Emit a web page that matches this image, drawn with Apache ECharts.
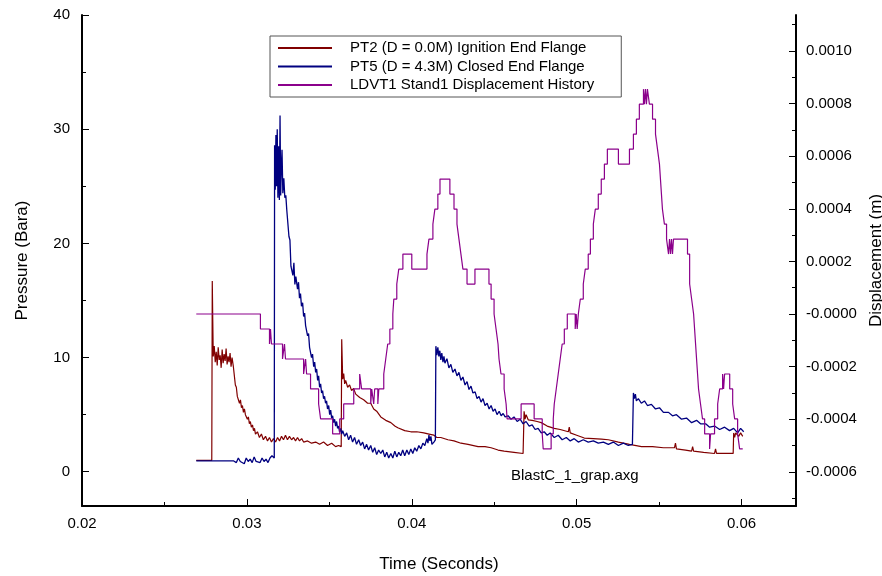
<!DOCTYPE html>
<html>
<head>
<meta charset="utf-8">
<script src="https://cdn.jsdelivr.net/npm/echarts@6/dist/echarts.min.js"></script>
<style>
  html, body { margin: 0; padding: 0; background: #fff; }
  #chart { width: 882px; height: 576px; }
</style>
</head>
<body>
<div id="chart"></div>
<script>
// tick values
const timeMajor = [0.02, 0.03, 0.04, 0.05, 0.06]
const timeMinor = [0.025, 0.035, 0.045, 0.055]
const pressureMajor = [0, 10, 20, 30, 40]
const pressureMinor = [5, 15, 25, 35]
const dispMajor = [-0.0006, -0.0004, -0.0002, 0, 0.0002, 0.0004, 0.0006, 0.0008, 0.001]
const dispMinor = [-0.0007, -0.0005, -0.0003, -0.0001, 0.0001, 0.0003, 0.0005, 0.0007, 0.0009, 0.0011]

const seriesNames = ['PT2 (D = 0.0M) Ignition End Flange', 'PT5 (D = 4.3M) Closed End Flange', 'LDVT1 Stand1 Displacement History']

// PT2 pressure [time s, bara]
const pt2Data = [
  [0.02693, 1.0], [0.02787, 1.0], [0.02790, 16.7], [0.02793, 13.3], [0.02796, 10.1],
  [0.02802, 11.0], [0.02808, 9.6], [0.02814, 10.5], [0.02820, 9.3], [0.02826, 10.9], [0.02832, 9.8],
  [0.02838, 10.2], [0.02844, 9.1], [0.02850, 10.7], [0.02856, 9.5], [0.02862, 10.3], [0.02868, 9.7],
  [0.02874, 10.8], [0.02880, 9.4], [0.02886, 10.1], [0.02892, 9.6], [0.02898, 10.4], [0.02904, 9.2],
  [0.02910, 10.0], [0.02918, 9.2], [0.02924, 8.4], [0.02930, 7.6], [0.02936, 7.4], [0.02942, 6.6],
  [0.02948, 6.7], [0.02955, 6.0], [0.02961, 6.3], [0.02967, 5.6], [0.02973, 5.8], [0.02979, 5.2],
  [0.02985, 5.5], [0.02991, 5.0], [0.02997, 5.1], [0.03003, 4.6], [0.03009, 4.8], [0.03015, 4.2],
  [0.03021, 4.4], [0.03027, 3.9], [0.03034, 4.1], [0.03040, 3.6], [0.03046, 3.8], [0.03052, 3.3],
  [0.03064, 3.5], [0.03076, 3.0], [0.03088, 3.3], [0.03100, 2.8], [0.03113, 3.1], [0.03125, 2.7],
  [0.03137, 3.0], [0.03149, 2.6], [0.03161, 2.9], [0.03174, 2.6], [0.03186, 3.0], [0.03198, 2.7],
  [0.03210, 3.1], [0.03222, 2.8], [0.03234, 3.2], [0.03246, 2.8], [0.03258, 3.1], [0.03271, 2.8],
  [0.03283, 3.0], [0.03295, 2.7], [0.03307, 3.0], [0.03319, 2.7], [0.03332, 2.9], [0.03344, 2.6],
  [0.03368, 2.7], [0.03392, 2.5], [0.03417, 2.6], [0.03441, 2.4], [0.03465, 2.6], [0.03489, 2.3],
  [0.03514, 2.5], [0.03538, 2.2], [0.03556, 2.3], [0.03572, 2.2], [0.03575, 11.6], [0.03581, 8.1],
  [0.03587, 8.6], [0.03593, 7.7], [0.03599, 8.0], [0.03611, 7.4], [0.03623, 7.6], [0.03635, 7.1],
  [0.03647, 7.3], [0.03660, 6.8], [0.03672, 6.9], [0.03684, 6.5], [0.03696, 6.6], [0.03708, 6.3],
  [0.03720, 6.3], [0.03732, 6.0], [0.03751, 6.0], [0.03769, 5.5], [0.03787, 5.3], [0.03812, 4.8],
  [0.03842, 4.5], [0.03873, 4.3], [0.03897, 4.0], [0.03915, 3.85], [0.03957, 3.6], [0.03994, 3.5],
  [0.04030, 3.5], [0.04073, 3.4], [0.04104, 3.3], [0.04134, 3.2], [0.04152, 3.0], [0.04176, 3.0],
  [0.04219, 2.8], [0.04256, 2.7], [0.04298, 2.5], [0.04341, 2.4], [0.04402, 2.2], [0.04444, 2.2],
  [0.04481, 2.1], [0.04523, 1.9], [0.04560, 1.8], [0.04620, 1.7], [0.04675, 1.6], [0.04678, 1.6],
  [0.04681, 5.3], [0.04687, 4.6], [0.04693, 5.0], [0.04706, 4.55], [0.04730, 4.5], [0.04760, 4.4],
  [0.04785, 4.3], [0.04821, 4.0], [0.04864, 3.8], [0.04900, 3.7], [0.04949, 3.5], [0.04955, 3.9],
  [0.04961, 3.4], [0.05000, 3.2], [0.05046, 2.95], [0.05101, 2.9], [0.05150, 2.85], [0.05192, 2.8],
  [0.05253, 2.6], [0.05320, 2.4], [0.05393, 2.2], [0.05460, 2.2], [0.05526, 2.1], [0.05593, 2.1],
  [0.05599, 2.5], [0.05605, 2.0], [0.05660, 1.9], [0.05697, 1.8], [0.05703, 2.2], [0.05709, 1.8],
  [0.05770, 1.7], [0.05836, 1.6], [0.05842, 2.0], [0.05848, 1.6], [0.05900, 1.6], [0.05949, 1.6],
  [0.05952, 3.4], [0.05958, 3.0], [0.05964, 3.4], [0.05982, 3.1], [0.05994, 3.4], [0.06007, 3.1]
]

// PT5 pressure [time s, bara]
const pt5Data = [
  [0.02693, 0.96], [0.02918, 0.96], [0.02924, 1.1], [0.02936, 0.8], [0.02948, 1.2], [0.02960, 0.9],
  [0.02972, 1.0], [0.02984, 0.7], [0.02996, 1.2], [0.03008, 0.9], [0.03020, 1.1], [0.03032, 0.8],
  [0.03044, 1.3], [0.03056, 0.9], [0.03068, 1.0], [0.03080, 0.8], [0.03092, 1.2], [0.03104, 0.9],
  [0.03116, 1.1], [0.03128, 0.8], [0.03140, 1.2], [0.03152, 1.4], [0.03166, 1.2], [0.03168, 28.6],
  [0.03172, 24.7], [0.03176, 29.5], [0.03180, 25.0], [0.03184, 30.0], [0.03188, 24.0], [0.03192, 28.5],
  [0.03197, 23.8], [0.03201, 31.2], [0.03205, 24.2], [0.03209, 26.7], [0.03213, 28.2], [0.03218, 24.4],
  [0.03224, 25.7], [0.03230, 24.0], [0.03236, 24.2], [0.03242, 22.9], [0.03255, 20.6], [0.03261, 20.3],
  [0.03267, 18.0], [0.03279, 17.2], [0.03285, 18.3], [0.03291, 16.4], [0.03297, 17.1], [0.03307, 16.0],
  [0.03313, 16.6], [0.03319, 15.2], [0.03325, 15.6], [0.03331, 14.5], [0.03338, 14.8], [0.03344, 13.6],
  [0.03350, 13.9], [0.03356, 12.8], [0.03362, 12.9], [0.03368, 11.9], [0.03374, 12.1], [0.03380, 10.9],
  [0.03386, 10.9], [0.03392, 10.0], [0.03398, 10.3], [0.03405, 9.2], [0.03411, 9.6], [0.03417, 8.7],
  [0.03423, 9.0], [0.03429, 8.0], [0.03435, 8.4], [0.03441, 7.4], [0.03447, 7.7], [0.03453, 6.9],
  [0.03459, 7.1], [0.03465, 6.4], [0.03471, 6.6], [0.03477, 6.0], [0.03483, 6.2], [0.03489, 5.5],
  [0.03496, 5.8], [0.03502, 5.0], [0.03508, 5.4], [0.03514, 4.7], [0.03520, 4.9], [0.03526, 4.3],
  [0.03532, 4.6], [0.03538, 4.0], [0.03544, 4.4], [0.03550, 3.8], [0.03556, 4.0], [0.03562, 3.5],
  [0.03569, 3.8], [0.03575, 3.3], [0.03581, 3.6], [0.03593, 3.1], [0.03605, 3.4], [0.03617, 2.8],
  [0.03629, 3.2], [0.03641, 2.6], [0.03653, 3.0], [0.03665, 2.4], [0.03678, 2.8], [0.03690, 2.3],
  [0.03702, 2.6], [0.03714, 2.0], [0.03726, 2.4], [0.03738, 1.9], [0.03751, 2.3], [0.03763, 1.7],
  [0.03775, 2.1], [0.03787, 1.5], [0.03799, 1.9], [0.03812, 1.6], [0.03824, 1.9], [0.03836, 1.3],
  [0.03848, 1.7], [0.03860, 1.2], [0.03873, 1.6], [0.03885, 1.2], [0.03897, 1.8], [0.03909, 1.3],
  [0.03921, 1.7], [0.03933, 1.4], [0.03945, 1.9], [0.03957, 1.4], [0.03970, 1.9], [0.03982, 1.5],
  [0.03994, 2.0], [0.04006, 1.6], [0.04018, 2.1], [0.04030, 1.8], [0.04043, 2.3], [0.04055, 2.0],
  [0.04067, 2.5], [0.04079, 2.3], [0.04091, 2.9], [0.04098, 2.5], [0.04104, 3.2], [0.04110, 2.7],
  [0.04116, 3.1], [0.04122, 2.4], [0.04134, 2.6], [0.04143, 2.8], [0.04146, 11.0], [0.04152, 10.2],
  [0.04158, 10.9], [0.04164, 10.1], [0.04170, 10.6], [0.04176, 9.8], [0.04182, 10.4], [0.04189, 9.6],
  [0.04195, 10.1], [0.04201, 9.5], [0.04213, 9.9], [0.04225, 9.1], [0.04237, 9.4], [0.04249, 8.7],
  [0.04262, 9.0], [0.04274, 8.4], [0.04286, 8.7], [0.04298, 8.0], [0.04310, 8.3], [0.04323, 7.6],
  [0.04335, 7.9], [0.04347, 7.2], [0.04359, 7.5], [0.04371, 6.9], [0.04384, 7.0], [0.04396, 6.4],
  [0.04408, 6.6], [0.04420, 6.1], [0.04432, 6.4], [0.04444, 5.8], [0.04457, 6.0], [0.04469, 5.5],
  [0.04481, 5.8], [0.04493, 5.3], [0.04505, 5.5], [0.04517, 5.0], [0.04530, 5.3], [0.04542, 4.9],
  [0.04554, 5.1], [0.04566, 4.8], [0.04584, 4.9], [0.04602, 4.6], [0.04620, 4.8], [0.04639, 4.4],
  [0.04657, 4.6], [0.04675, 4.2], [0.04693, 4.4], [0.04712, 4.0], [0.04730, 4.1], [0.04748, 3.7],
  [0.04766, 3.8], [0.04785, 3.4], [0.04803, 3.5], [0.04821, 3.2], [0.04839, 3.4], [0.04864, 3.0],
  [0.04888, 3.2], [0.04912, 2.8], [0.04937, 3.0], [0.04961, 2.7], [0.04985, 2.9], [0.05010, 2.6],
  [0.05040, 2.8], [0.05070, 2.6], [0.05101, 2.7], [0.05131, 2.5], [0.05162, 2.6], [0.05192, 2.4],
  [0.05222, 2.6], [0.05253, 2.3], [0.05283, 2.5], [0.05313, 2.3], [0.05338, 2.4], [0.05341, 2.4],
  [0.05344, 6.9], [0.05350, 6.4], [0.05356, 6.8], [0.05362, 6.2], [0.05374, 6.4], [0.05392, 6.0],
  [0.05411, 6.2], [0.05429, 5.8], [0.05453, 5.9], [0.05478, 5.5], [0.05502, 5.6], [0.05526, 5.2],
  [0.05557, 5.2], [0.05581, 4.9], [0.05605, 5.0], [0.05636, 4.6], [0.05666, 4.7], [0.05697, 4.3],
  [0.05727, 4.5], [0.05751, 4.2], [0.05782, 4.2], [0.05806, 3.9], [0.05836, 4.0], [0.05867, 3.7],
  [0.05897, 3.9], [0.05927, 3.6], [0.05952, 3.8], [0.05976, 3.4], [0.05994, 3.8], [0.06013, 3.5]
]

// LDVT1 displacement [time s, m], stepped
const ldvtData = [
  [0.02693, 0], [0.03082, -0.000057], [0.03137, -0.000114], [0.03143, -0.000057], [0.03149, -0.000114],
  [0.03216, -0.000171], [0.03228, -0.000114], [0.03234, -0.000171], [0.03344, -0.000228], [0.03356, -0.000171],
  [0.03362, -0.000228], [0.03386, -0.000285], [0.03435, -0.000342], [0.03447, -0.000399], [0.03520, -0.000456],
  [0.03563, -0.000399], [0.03587, -0.000342], [0.03648, -0.000285], [0.03684, -0.000228], [0.03696, -0.000285],
  [0.03751, -0.000342], [0.03757, -0.000285], [0.03769, -0.000342], [0.03775, -0.000285], [0.03794, -0.000342],
  [0.03800, -0.000285], [0.03830, -0.000228], [0.03842, -0.000171], [0.03854, -0.000114], [0.03867, -0.000057],
  [0.03885, 0], [0.03891, 0.000057], [0.03909, 0.000114], [0.03921, 0.000171], [0.03946, 0.000228],
  [0.04000, 0.000171], [0.04092, 0.000228], [0.04104, 0.000285], [0.04128, 0.000342], [0.04140, 0.000399],
  [0.04158, 0.000456], [0.04171, 0.000513], [0.04231, 0.000456], [0.04256, 0.000399], [0.04274, 0.000342],
  [0.04286, 0.000285], [0.04298, 0.000228], [0.04310, 0.000171], [0.04335, 0.000114], [0.04383, 0.000171],
  [0.04468, 0.000114], [0.04481, 0.000057], [0.04499, 0], [0.04511, -0.000057], [0.04523, -0.000114],
  [0.04529, -0.000171], [0.04541, -0.000228], [0.04560, -0.000285], [0.04572, -0.000342], [0.04578, -0.000399],
  [0.04663, -0.000342], [0.04742, -0.000399], [0.04791, -0.000456], [0.04797, -0.000513], [0.04845, -0.000456],
  [0.04858, -0.000399], [0.04864, -0.000342], [0.04876, -0.000285], [0.04888, -0.000228], [0.04900, -0.000171],
  [0.04912, -0.000114], [0.04925, -0.000057], [0.04943, 0], [0.04991, -0.000057], [0.04997, 0],
  [0.05003, -0.000057], [0.05010, 0], [0.05022, 0.000057], [0.05040, 0.000114], [0.05052, 0.000171],
  [0.05070, 0.000228], [0.05083, 0.000285], [0.05101, 0.000342], [0.05113, 0.000399], [0.05131, 0.000456],
  [0.05149, 0.000513], [0.05168, 0.00057], [0.05186, 0.000627], [0.05253, 0.00057], [0.05320, 0.000627],
  [0.05344, 0.000684], [0.05362, 0.000741], [0.05380, 0.000798], [0.05405, 0.000855], [0.05411, 0.000798],
  [0.05417, 0.000855], [0.05423, 0.000798], [0.05429, 0.000855], [0.05441, 0.000798], [0.05460, 0.000741],
  [0.05478, 0.000684], [0.05490, 0.000627], [0.05502, 0.00057], [0.05508, 0.000513], [0.05514, 0.000456],
  [0.05520, 0.000399], [0.05532, 0.000342], [0.05545, 0.000285], [0.05557, 0.000228], [0.05563, 0.000285],
  [0.05569, 0.000228], [0.05575, 0.000285], [0.05581, 0.000228], [0.05587, 0.000285], [0.05672, 0.000228],
  [0.05685, 0.000114], [0.05697, 0.000057], [0.05709, 0], [0.05715, -0.000057], [0.05721, -0.000114],
  [0.05727, -0.000171], [0.05733, -0.000228], [0.05739, -0.000285], [0.05751, -0.000342], [0.05763, -0.000399],
  [0.05776, -0.000456], [0.05806, -0.000513], [0.05812, -0.000456], [0.05836, -0.000399], [0.05855, -0.000342],
  [0.05867, -0.000285], [0.05885, -0.000228], [0.05891, -0.000285], [0.05897, -0.000228], [0.05928, -0.000285],
  [0.05946, -0.000342], [0.05958, -0.000399], [0.05976, -0.000456], [0.05988, -0.000513], [0.06007, -0.000513]
]

const font = 'Liberation Sans, Arial, sans-serif'
const black = '#000'

function minorAxis (base, ticks) {
  return Object.assign({}, base, {
    name: '',
    axisLine: { show: false, onZero: false },
    axisLabel: { show: false },
    axisTick: { show: true, inside: true, length: 4, customValues: ticks, lineStyle: { color: black, width: 1 } }
  })
}

const xBase = { type: 'value', min: 0.02, max: 0.0633, position: 'bottom', splitLine: { show: false } }
const yLeftBase = { type: 'value', min: -3, max: 40, position: 'left', splitLine: { show: false } }
const yRightBase = { type: 'value', min: -0.00073, max: 0.001137, position: 'right', splitLine: { show: false } }

const option = {
  animation: false,
  textStyle: { fontFamily: font },
  grid: { left: 82, right: 86, top: 15, bottom: 70, outerBoundsMode: 'none' },
  legend: {
    data: seriesNames,
    orient: 'vertical',
    left: 270,
    top: 36,
    icon: 'rect',
    itemWidth: 54,
    itemHeight: 2,
    itemGap: 1.5,
    padding: [3.5, 27, 3.5, 8],
    borderColor: '#555',
    borderWidth: 1,
    backgroundColor: '#fff',
    textStyle: { fontSize: 15, color: black, fontFamily: font, lineHeight: 17, padding: [0, 0, 0, 13] }
  },
  graphic: [{
    type: 'text',
    left: 511,
    top: 468,
    style: { text: 'BlastC_1_grap.axg', fontSize: 15, fontFamily: font, fill: black }
  }],
  xAxis: [
    Object.assign({}, xBase, {
      name: 'Time (Seconds)',
      nameLocation: 'middle',
      nameGap: 50,
      nameTextStyle: { fontSize: 17, color: black, fontFamily: font },
      axisLine: { show: true, onZero: false, lineStyle: { color: black, width: 2 } },
      axisTick: { show: true, inside: true, length: 7, customValues: timeMajor, lineStyle: { color: black, width: 1 } },
      axisLabel: { customValues: timeMajor, fontSize: 15, color: black, fontFamily: font, margin: 10, formatter: v => v.toFixed(2) }
    }),
    minorAxis(xBase, timeMinor)
  ],
  yAxis: [
    Object.assign({}, yLeftBase, {
      name: 'Pressure (Bara)',
      nameLocation: 'middle',
      nameGap: 51,
      nameTextStyle: { fontSize: 17, color: black, fontFamily: font },
      axisLine: { show: true, onZero: false, lineStyle: { color: black, width: 2 } },
      axisTick: { show: true, inside: true, length: 7, customValues: pressureMajor, lineStyle: { color: black, width: 1 } },
      axisLabel: { customValues: pressureMajor, fontSize: 15, color: black, fontFamily: font, margin: 12 }
    }),
    minorAxis(yLeftBase, pressureMinor),
    Object.assign({}, yRightBase, {
      name: 'Displacement (m)',
      nameLocation: 'middle',
      nameGap: 68,
      nameTextStyle: { fontSize: 17, color: black, fontFamily: font },
      axisLine: { show: true, onZero: false, lineStyle: { color: black, width: 2 } },
      axisTick: { show: true, inside: true, length: 7, customValues: dispMajor, lineStyle: { color: black, width: 1 } },
      axisLabel: {
        customValues: dispMajor,
        fontSize: 15,
        color: black,
        fontFamily: font,
        margin: 10,
        formatter: v => Math.abs(v) < 1e-12 ? '-0.0000' : v.toFixed(4)
      }
    }),
    minorAxis(yRightBase, dispMinor)
  ],
  series: [
    {
      name: seriesNames[0],
      type: 'line',
      xAxisIndex: 0,
      yAxisIndex: 0,
      data: pt2Data,
      color: '#800000',
      symbol: 'none',
      lineStyle: { width: 1.2 }
    },
    {
      name: seriesNames[1],
      type: 'line',
      xAxisIndex: 0,
      yAxisIndex: 0,
      data: pt5Data,
      color: '#000080',
      symbol: 'none',
      lineStyle: { width: 1.3 }
    },
    {
      name: seriesNames[2],
      type: 'line',
      xAxisIndex: 0,
      yAxisIndex: 2,
      data: ldvtData,
      step: 'end',
      color: '#8b008b',
      symbol: 'none',
      lineStyle: { width: 1.2 }
    }
  ]
}

const myChart = echarts.init(document.getElementById('chart'))
myChart.setOption(option)
</script>
</body>
</html>
